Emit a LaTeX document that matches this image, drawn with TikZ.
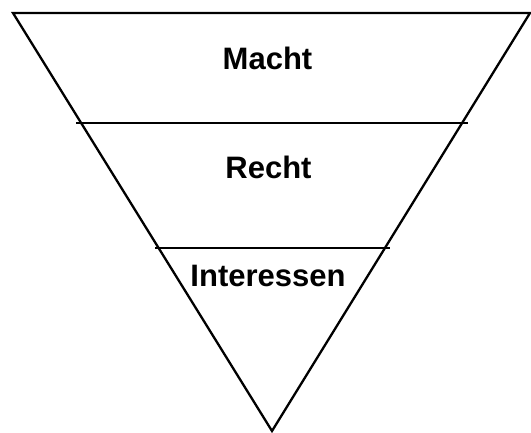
\documentclass[tikz,border=0pt]{standalone}
\usepackage{fontspec}
\setmainfont{Liberation Sans}
\begin{document}
\begin{tikzpicture}[x=1pt,y=-1pt,
  edge/.style={line width=2.3pt,line join=miter},
  label/.style={font=\fontsize{31}{37}\selectfont\bfseries,anchor=base,inner sep=0pt}]
\useasboundingbox (0,0) rectangle (531,433);
\coordinate (tl) at (13,13);
\coordinate (tr) at (530,13);
\coordinate (ap) at (272,431);
\draw[edge] (tl) -- (tr) -- (ap) -- cycle;
\coordinate (a1) at (76,123);
\coordinate (b1) at (468,123);
\coordinate (a2) at (155,248);
\coordinate (b2) at (390,248);
\draw[edge,line width=1.7pt] (a1) -- (b1);
\draw[edge,line width=1.7pt] (a2) -- (b2);
\node[label] (macht) at (267.5,69.3) {Macht};
\node[label] (recht) at (268.5,179) {Recht};
\node[label] (int) at (268,286.7) {Interessen};
\end{tikzpicture}
\end{document}
